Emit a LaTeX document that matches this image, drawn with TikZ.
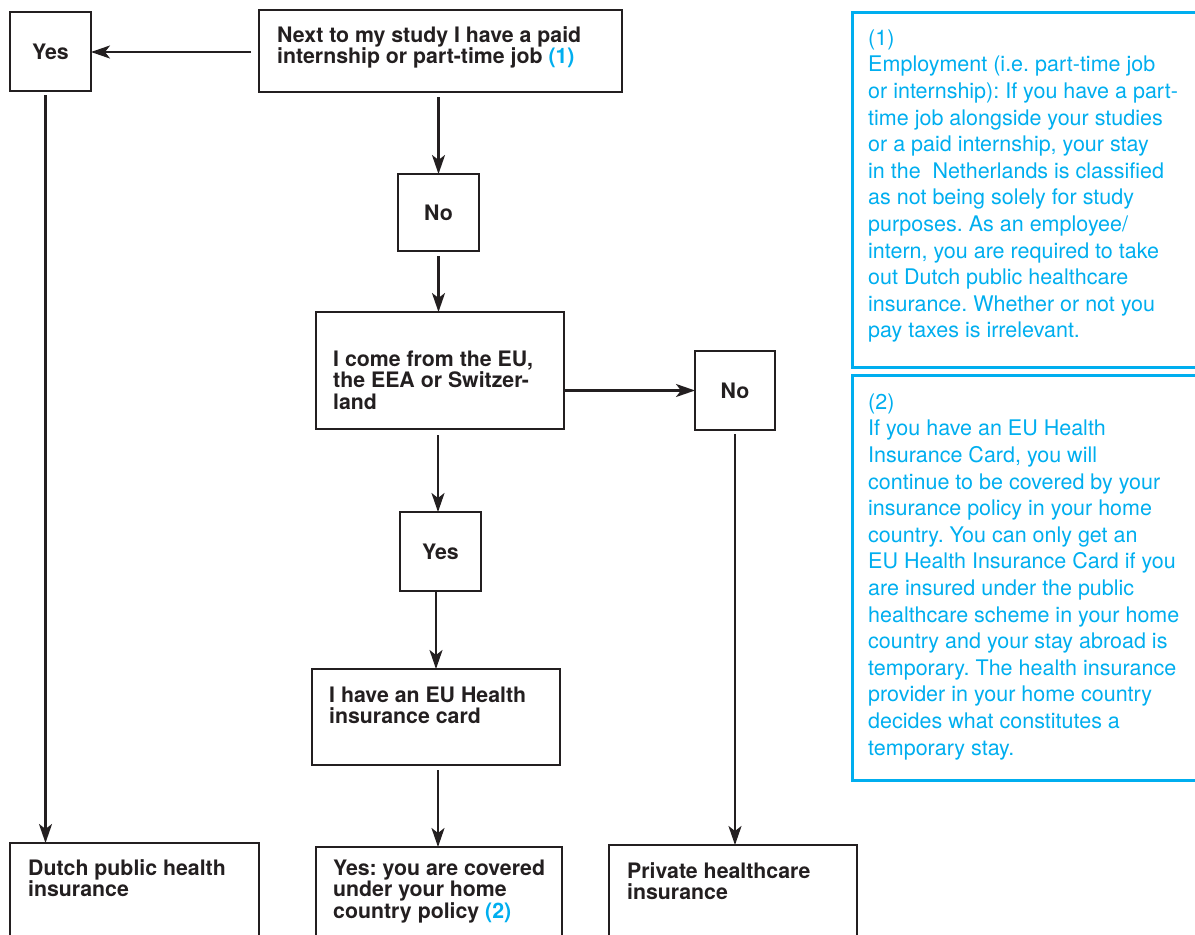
\documentclass[tikz,border=0pt]{standalone}
\usepackage{fontspec}
\setmainfont{TeX Gyre Heros}
\usetikzlibrary{arrows.meta}
\definecolor{ink}{RGB}{35,31,32}
\definecolor{cyanblue}{RGB}{0,174,239}
\frenchspacing
\begin{document}
\begin{tikzpicture}[x=1pt,y=-1pt,
  box/.style={draw=ink, line width=2.5pt, inner sep=0pt, outer sep=0pt, text=ink,
    font=\fontsize{21.3}{21.5}\selectfont\bfseries},
  notebox/.style={draw=cyanblue, line width=3pt, inner sep=0pt, outer sep=0pt},
  btext/.style={anchor=north west, inner sep=0pt, align=left, text=ink,
    font=\fontsize{21.3}{21.5}\selectfont\bfseries},
  ntext/.style={anchor=north west, inner sep=0pt, align=left, text=cyanblue,
    font=\fontsize{21.5}{26.6}\selectfont},
  arr/.style={draw=ink, line width=2.3pt, -{Stealth[length=19pt,width=13pt,inset=5pt]}},
  ln/.style={draw=ink, line width=2.3pt}
]
\useasboundingbox (0,0) rectangle (1195,935);

% boxes
\node[box, minimum width=81pt, minimum height=79pt] (yes1) at (50.5,51.5) {Yes};
\node[box, minimum width=363pt, minimum height=82pt] (next) at (440.5,51) {};
\node[box, minimum width=81pt, minimum height=77pt] (no1) at (438.5,212.5) {No};
\node[box, minimum width=248pt, minimum height=117pt] (eu) at (440,370.5) {};
\node[box, minimum width=80pt, minimum height=79pt] (no2) at (735,390.5) {No};
\node[box, minimum width=81pt, minimum height=79pt] (yes2) at (440.5,551.5) {Yes};
\node[box, minimum width=248pt, minimum height=96pt] (card) at (436,717) {};
\node[box, minimum width=249pt, minimum height=107pt] (dutch) at (134.5,896.5) {};
\node[box, minimum width=246pt, minimum height=103pt] (covered) at (439,898.5) {};
\node[box, minimum width=248pt, minimum height=105pt] (private) at (733,897.5) {};
\node[notebox, minimum width=358pt, minimum height=355pt] (note1) at (1031,189.5) {};
\node[notebox, minimum width=358pt, minimum height=405pt] (note2) at (1031,577.5) {};

% box texts
\node[btext] (nextt) at (277,25) {\rule{0pt}{17pt}Next to my study I have a paid\\internship or part-time job \textcolor{cyanblue}{(1)}};
\node[btext] (eut) at (333,349) {\rule{0pt}{17pt}I come from the EU,\\the EEA or Switzer-\\land};
\node[btext] (cardt) at (329,685) {\rule{0pt}{17pt}I have an EU Health\\insurance card};
\node[btext] (dutcht) at (28,858) {\rule{0pt}{17pt}Dutch public health\\insurance};
\node[btext] (coveredt) at (333,858) {\rule{0pt}{17pt}Yes: you are covered\\under your home\\country policy \textcolor{cyanblue}{(2)}};
\node[btext] (privatet) at (627,861) {\rule{0pt}{17pt}Private healthcare\\insurance};

% note texts
\node[ntext] (note1t) at (868,27) {\rule{0pt}{18pt}(1)\\Employment (i.e. part-time job\\or internship): If you have a part-\\time job alongside your studies\\or a paid internship, your stay\\in the~ Netherlands is classified\\as not being solely for study\\purposes. As an employee/\\intern, you are required to take\\out Dutch public healthcare\\insurance. Whether or not you\\pay taxes is irrelevant.};
\node[ntext] (note2t) at (868,391) {\rule{0pt}{18pt}(2)\\If you have an EU Health\\Insurance Card, you will\\continue to be covered by your\\insurance policy in your home\\country. You can only get an\\EU Health Insurance Card if you\\are insured under the public\\healthcare scheme in your home\\country and your stay abroad is\\temporary. The health insurance\\provider in your home country\\decides what constitutes a\\temporary stay.};

% connectors
\draw[arr, shorten <=8pt] (next.west |- 0,52) -- (yes1.east |- 0,52);
\draw[arr, shorten <=5pt] (next.south -| no1.north) -- (no1.north);
\draw[arr, shorten <=5pt] (no1.south) -- (no1.south |- eu.north);
\draw[arr] (eu.east |- no2.west) -- (no2.west);
\draw[arr, shorten <=6pt] ([xshift=-2.5pt]yes2.north |- eu.south) -- ([xshift=-2.5pt]yes2.north);
\draw[arr] (card.north |- yes2.south) -- (card.north);
\draw[arr, shorten <=5pt] ([xshift=2pt]card.south) -- ([xshift=2pt]card.south |- covered.north);
\draw[arr, shorten <=4pt] (no2.south) -- (no2.south |- private.north);
\draw[arr, shorten <=4pt] ([xshift=-5pt]yes1.south) -- ([xshift=-5pt]yes1.south |- dutch.north);
\end{tikzpicture}
\end{document}
